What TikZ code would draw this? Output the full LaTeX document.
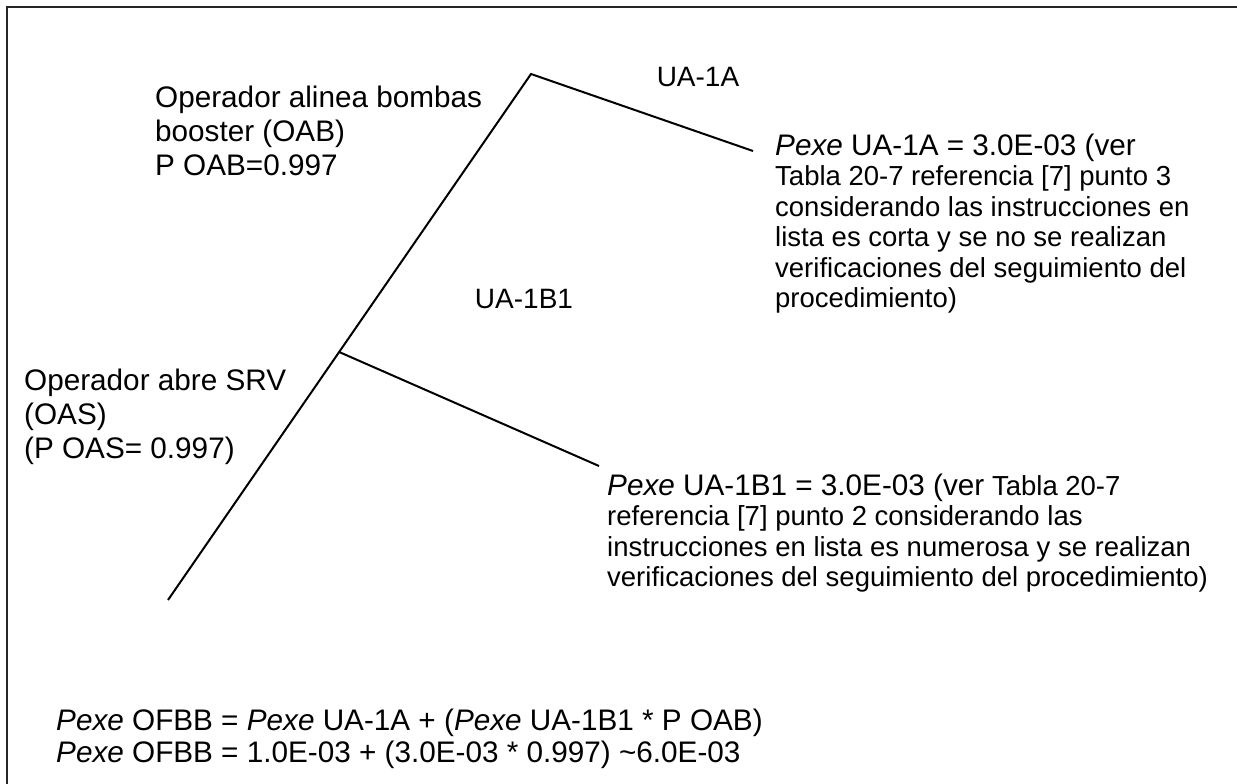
\documentclass[tikz,border=0pt]{standalone}
\usepackage{fontspec}
\setmainfont{Liberation Sans}
\usetikzlibrary{calc}
\newcommand\lgtxt[1]{{\fontsize{29.7}{30.5}\selectfont #1}}
\tikzset{
  lbl/.style={inner sep=0pt, anchor=north west, align=left, font=\fontsize{27.5}{30.5}\selectfont},
  biglbl/.style={inner sep=0pt, anchor=north west, align=left, font=\fontsize{29.7}{34}\selectfont},
  formlbl/.style={inner sep=0pt, anchor=north west, align=left, font=\fontsize{29.7}{32}\selectfont},
  clbl/.style={inner sep=0pt, anchor=base, font=\fontsize{28}{30.5}\selectfont},
  branch/.style={draw=black, line width=2pt},
  frame/.style={draw=black!85, line width=2.6pt}
}
\begin{document}
\begin{tikzpicture}[x=1pt,y=-1pt]
\useasboundingbox (0,0) rectangle (1237,784);
% frame (top and left edges)
\coordinate (fbl) at (7,784);
\coordinate (ftl) at (7,7);
\coordinate (ftr) at (1237,7);
\draw[frame] (fbl) -- (ftl) -- (ftr);
% tree
\coordinate (bot) at (168,600);
\coordinate (top) at (531,74);
\coordinate (e1) at (753,151);
\coordinate (mid) at ($(bot)!0.4715!(top)$);
\coordinate (e2) at (599,466);
\draw[branch] (bot) -- (top) -- (e1);
\draw[branch] (mid) -- (e2);
% labels
\node[clbl] (ua1a) at (698,86) {UA-1A};
\node[clbl] (ua1b1) at (524,308) {UA-1B1};
\node[biglbl] (oab) at (155,85.7) {Operador alinea bombas\\booster (OAB)\\P OAB=0.997};
\node[biglbl] (oas) at (24,368.7) {Operador abre SRV\\(OAS)\\(P OAS= 0.997)};
\node[lbl] (pa) at (775,133.4) {\lgtxt{\textit{Pexe} UA-1A = 3.0E-03 (ver}\\Tabla 20-7 referencia [7] punto 3\\considerando las instrucciones en\\lista es corta y se no se realizan\\verificaciones del seguimiento del\\procedimiento)};
\node[lbl] (pb) at (607,473.4) {\lgtxt{\textit{Pexe} UA-1B1 = 3.0E-03 (ver} Tabla 20-7\\referencia [7] punto 2 considerando las\\instrucciones en lista es numerosa y se realizan\\verificaciones del seguimiento del procedimiento)};
\node[formlbl] (form) at (56,708.4) {\textit{Pexe} OFBB = \textit{Pexe} UA-1A + (\textit{Pexe} UA-1B1 * P OAB)\\\textit{Pexe} OFBB = 1.0E-03 + (3.0E-03 * 0.997) \textasciitilde6.0E-03};
\end{tikzpicture}
\end{document}
